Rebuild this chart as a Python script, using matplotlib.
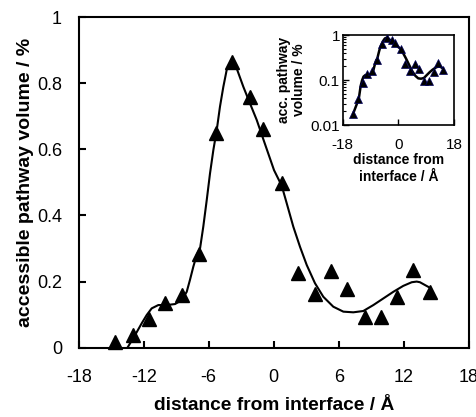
import numpy as np
import matplotlib
matplotlib.use('Agg')
import matplotlib.pyplot as plt

plt.rcParams['font.family'] = ['Liberation Sans', 'DejaVu Sans']

# measured points (distance / A, accessible pathway volume / %)
dist = [-14.65, -12.96, -11.5, -10.03, -8.5, -6.9, -5.33, -3.82, -2.19, -0.96,
        0.74, 2.27, 3.81, 5.26, 6.74, 8.43, 9.88, 11.41, 12.89, 14.43]
volume = [0.018, 0.038, 0.087, 0.134, 0.159, 0.283, 0.648, 0.865, 0.759, 0.663,
          0.497, 0.227, 0.161, 0.232, 0.177, 0.094, 0.094, 0.152, 0.235, 0.169]

# smoothed fit line
fit_x = [-13.5, -12.8, -12.18, -11.72, -11.26, -10.65, -9.88, -9.11, -8.49,
         -8.03, -7.73, -7.42, -7.11, -6.8, -6.5, -6.18, -5.88, -5.57, -5.26,
         -4.96, -4.65, -4.34, -4.1, -3.88, -3.65, -3.42, -2.8, -2.19, -1.57,
         -0.9, 0.03, 0.74, 1.2, 1.81, 2.43, 3.05, 3.81, 4.58, 5.5, 6.43, 7.35,
         8.27, 9.2, 10.12, 11.04, 11.96, 12.74, 13.2, 13.5, 14.27]
fit_y = [0.0, 0.038, 0.074, 0.099, 0.119, 0.129, 0.129, 0.132, 0.144,
         0.169, 0.205, 0.245, 0.28, 0.3, 0.366, 0.447, 0.527, 0.598, 0.658,
         0.729, 0.789, 0.84, 0.856, 0.862, 0.858, 0.845, 0.789, 0.739, 0.689,
         0.625, 0.537, 0.49, 0.437, 0.366, 0.305, 0.25, 0.195, 0.154, 0.124,
         0.109, 0.107, 0.111, 0.129, 0.149, 0.169, 0.187, 0.198, 0.2, 0.198, 0.184]

# the log inset starts the line at the first point
inset_start_x = [-14.6]
inset_start_y = [0.018]

xticks = [-18, -12, -6, 0, 6, 12, 18]
yticks = [0, 0.2, 0.4, 0.6, 0.8, 1]
ytick_labels = ['0', '0.2', '0.4', '0.6', '0.8', '1']

fig = plt.figure(figsize=(4.77, 4.17), dpi=100)
ax = fig.add_axes([0.165, 0.1662, 0.8176, 0.7928])

ax.plot(fit_x, fit_y, color='black', linewidth=1.5, zorder=2,
        solid_joinstyle='round')
ax.plot(dist, volume, linestyle='none', marker='^', markersize=9.5,
        color='black', zorder=3, clip_on=False)

ax.set_xlim(-18, 18)
ax.set_ylim(0, 1)
ax.set_xticks(xticks)
ax.set_xticklabels([str(t) for t in xticks])
ax.set_yticks(yticks)
ax.set_yticklabels(ytick_labels)
ax.tick_params(direction='in', length=5, width=1.5, labelsize=13)
ax.tick_params(axis='x', pad=15)
ax.tick_params(axis='y', pad=12)
for s in ax.spines.values():
    s.set_linewidth(1.5)
ax.set_xlabel('distance from interface / \u00c5', fontsize=13.8, fontweight='bold', labelpad=8)
ax.set_ylabel('accessible pathway volume / %', fontsize=14, fontweight='bold', labelpad=2)

# inset on log scale
ins = fig.add_axes([0.7184, 0.7002, 0.2334, 0.2158])
in_x = inset_start_x + [x for x, y in zip(fit_x, fit_y) if y > 0]
in_y = inset_start_y + [y for y in fit_y if y > 0]
ins.plot(in_x, in_y, color='black', linewidth=1.8, zorder=2)
ins.plot(dist, volume, linestyle='none', marker='^', markersize=6,
         markerfacecolor='black', markeredgecolor='#000060', markeredgewidth=0.5,
         zorder=3)
ins.set_yscale('log')
ins.set_xlim(-18, 18)
ins.set_ylim(0.01, 1)
ins.set_xticks([-18, 0, 18])
ins.set_xticklabels(['-18', '0', '18'])
ins.set_yticks([0.01, 0.1, 1])
ins.set_yticklabels(['0.01', '0.1', '1'])
ins.tick_params(direction='in', length=4, width=1, labelsize=11)
ins.tick_params(which='minor', direction='in', length=2, width=0.8)
ins.tick_params(axis='x', pad=9)
ins.tick_params(axis='y', pad=2)
for s in ins.spines.values():
    s.set_linewidth(1.2)
ins.set_xlabel('distance from\ninterface / \u00c5', fontsize=10, fontweight='bold',
               labelpad=1, linespacing=1.3)
ins.set_ylabel('acc. pathway\nvolume / %', fontsize=10, fontweight='bold',
               labelpad=3, linespacing=1.1)

fig.savefig('out.png', dpi=100)
